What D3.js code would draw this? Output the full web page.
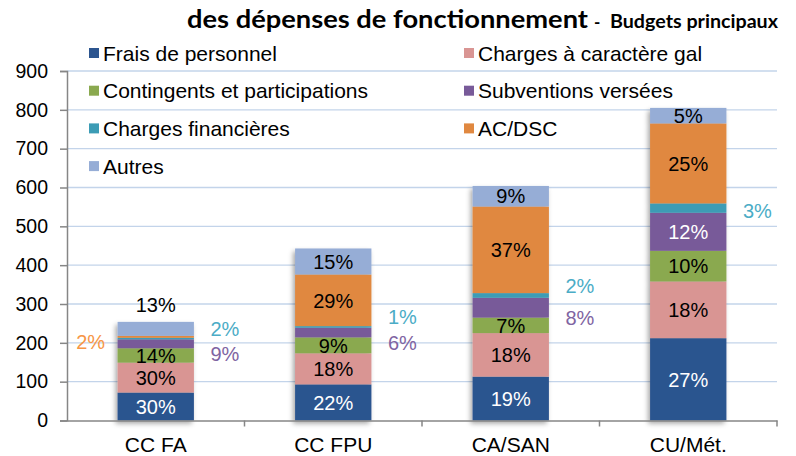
<!DOCTYPE html>
<html>
<head>
<meta charset="utf-8">
<script src="https://cdn.jsdelivr.net/npm/d3@7"></script>
<style>
  body { margin: 0; background: #fff; }
  svg { display: block; font-family: "Liberation Sans", Arial, sans-serif; }
</style>
</head>
<body>
<div class="graph"></div>
<script>
var categories = ['CC FA', 'CC FPU', 'CA/SAN', 'CU/Mét.'];
var seriesNames = ['Frais de personnel', 'Charges à caractère gal', 'Contingents et participations',
  'Subventions versées', 'Charges financières', 'AC/DSC', 'Autres'];

// montants
var personnel   = [72, 93, 113, 212];
var chargesGal  = [77, 80, 112, 146];
var contingents = [37, 41, 40, 79];
var subventions = [23, 25, 51, 98];
var chargesFin  = [4, 4, 12, 24];
var acDsc       = [5, 133, 223, 206];
var autres      = [36, 67, 53, 40];

// étiquettes en %
var pctPersonnel   = ['30%', '22%', '19%', '27%'];
var pctChargesGal  = ['30%', '18%', '18%', '18%'];
var pctContingents = ['14%', '9%', '7%', '10%'];
var pctSubventions = ['9%', '6%', '8%', '12%'];
var pctChargesFin  = ['2%', '1%', '2%', '3%'];
var pctAcDsc       = ['2%', '29%', '37%', '25%'];
var pctAutres      = ['13%', '15%', '9%', '5%'];

var yTicks = [0, 100, 200, 300, 400, 500, 600, 700, 800, 900];

var values = [personnel, chargesGal, contingents, subventions, chargesFin, acDsc, autres];
var pcts = [pctPersonnel, pctChargesGal, pctContingents, pctSubventions, pctChargesFin, pctAcDsc, pctAutres];
var colors = ['#2c558f', '#d99593', '#8aa94f', '#785a99', '#3c9cb5', '#e08840', '#96add6'];
var outColors = ['#2c558f', '#d99593', '#8aa94f', '#8064a2', '#4bacc6', '#f79646', '#96add6'];

var rows = categories.map(function (c, i) {
  var r = { cat: c };
  seriesNames.forEach(function (s, k) { r[s] = values[k][i]; });
  return r;
});

var W = 796, H = 456;
var x = d3.scaleBand().domain(categories).range([67, 777]).paddingInner(0.57).paddingOuter(0.285);
var y = d3.scaleLinear().domain([0, 900]).range([420.5, 71]);

var svg = d3.select('.graph').append('svg').attr('width', W).attr('height', H);

var defs = svg.append('defs');
defs.append('filter').attr('id', 'shadow').attr('x', '-30%').attr('y', '-10%').attr('width', '160%').attr('height', '130%')
  .append('feDropShadow')
  .attr('dx', -2).attr('dy', 3).attr('stdDeviation', 2.5)
  .attr('flood-color', '#000').attr('flood-opacity', 0.35);

// grille
svg.append('g').selectAll('line').data(yTicks.slice(1)).enter().append('line')
  .attr('x1', 67).attr('x2', 777)
  .attr('y1', function (d) { return y(d); }).attr('y2', function (d) { return y(d); })
  .attr('stroke', '#c3d4ea').attr('stroke-width', 1.3);

// axe Y
var yAxis = svg.append('g').attr('transform', 'translate(67,0)')
  .call(d3.axisLeft(y).tickValues(yTicks).tickSize(7).tickPadding(12).tickFormat(d3.format('d')));
yAxis.select('.domain').attr('stroke', '#868686').attr('stroke-width', 1.5);
yAxis.selectAll('.tick line').attr('stroke', '#868686').attr('stroke-width', 1.5);
yAxis.selectAll('text').attr('font-size', '19.5px').attr('fill', '#000')
  .attr('font-family', '"Liberation Sans", Arial, sans-serif');

// barres
var stack = d3.stack().keys(seriesNames);
var layers = stack(rows);

var bars = svg.append('g').attr('filter', 'url(#shadow)');
bars.selectAll('g.layer').data(layers).enter().append('g')
  .attr('class', 'layer')
  .attr('fill', function (d, i) { return colors[i]; })
  .selectAll('rect').data(function (d) { return d; }).enter().append('rect')
  .attr('x', function (d) { return x(d.data.cat); })
  .attr('width', x.bandwidth())
  .attr('y', function (d) { return y(d[1]); })
  .attr('height', function (d) { return y(d[0]) - y(d[1]); });

// axe X
var xAxis = svg.append('g').attr('transform', 'translate(0,420.5)')
  .call(d3.axisBottom(x).tickSize(0).tickPadding(17));
xAxis.select('.domain').attr('stroke', '#868686').attr('stroke-width', 1.5);
xAxis.selectAll('text').attr('font-size', '21px').attr('fill', '#000')
  .attr('font-family', '"Liberation Sans", Arial, sans-serif');
var step = x.step();
xAxis.selectAll('line.sep').data(categories).enter().append('line')
  .attr('class', 'sep')
  .attr('x1', function (d) { return x(d) - x.paddingOuter() * step + step; })
  .attr('x2', function (d) { return x(d) - x.paddingOuter() * step + step; })
  .attr('y1', 0).attr('y2', 6)
  .attr('stroke', '#868686').attr('stroke-width', 1.5);

// étiquettes
function placement(k, i) {
  if (k === 4) return 'right';
  if (k === 3 && values[k][i] < 60) return 'right';
  if (k === 5 && values[k][i] < 20) return 'left';
  if (k === 6 && i === 0) return 'top';
  return 'in';
}
var labels = [];
layers.forEach(function (layer, k) {
  layer.forEach(function (d, i) {
    var p = placement(k, i);
    var bx = x(d.data.cat), bw = x.bandwidth();
    var cy = (y(d[0]) + y(d[1])) / 2;
    var lx = bx + bw / 2, ly = cy, fill = '#000';
    if (p === 'in') {
      fill = (k === 0 || k === 3) ? '#fff' : '#000';
    } else if (p === 'right') {
      lx = bx + bw + 31;
      // teal au-dessus, violet en dessous quand les deux sont dehors
      var pair = placement(3, i) === 'right';
      if (k === 4) ly = pair ? cy - 10 : cy + 3;
      else ly = cy + 10;
      fill = outColors[k];
    } else if (p === 'left') {
      lx = bx - 27; ly = cy + 5; fill = outColors[k];
    } else if (p === 'top') {
      ly = y(d[1]) - 17;
    }
    labels.push({ text: pcts[k][i], x: lx, y: ly, fill: fill });
  });
});
svg.append('g').selectAll('text').data(labels).enter().append('text')
  .attr('x', function (d) { return d.x; })
  .attr('y', function (d) { return d.y; })
  .attr('dy', '0.36em')
  .attr('text-anchor', 'middle')
  .attr('font-size', '20px')
  .attr('fill', function (d) { return d.fill; })
  .text(function (d) { return d.text; });

// légende
var legend = svg.append('g').selectAll('g').data(seriesNames).enter().append('g')
  .attr('transform', function (d, i) {
    return 'translate(' + (i % 2 === 0 ? 89 : 464) + ',' + (53 + Math.floor(i / 2) * 37.7) + ')';
  });
legend.append('rect').attr('x', 0).attr('y', -5).attr('width', 10).attr('height', 10)
  .attr('fill', function (d, i) { return colors[i]; });
legend.append('text').attr('x', 14).attr('dy', '0.36em').attr('font-size', '21px').attr('fill', '#000')
  .text(function (d) { return d; });

// titre
var title = svg.append('text').attr('y', 28).attr('font-family', 'Lato, "Open Sans", sans-serif')
  .attr('font-weight', 'bold').attr('fill', '#000');
title.append('tspan').attr('x', 187).attr('font-size', '25px')
  .attr('textLength', 401).attr('lengthAdjust', 'spacingAndGlyphs')
  .text('des dépenses de fonctionnement');
title.append('tspan').attr('x', 594).attr('font-size', '17px').text('-');
title.append('tspan').attr('x', 610).attr('font-size', '18px')
  .attr('textLength', 168).attr('lengthAdjust', 'spacingAndGlyphs')
  .text('Budgets principaux');
</script>
</body>
</html>
